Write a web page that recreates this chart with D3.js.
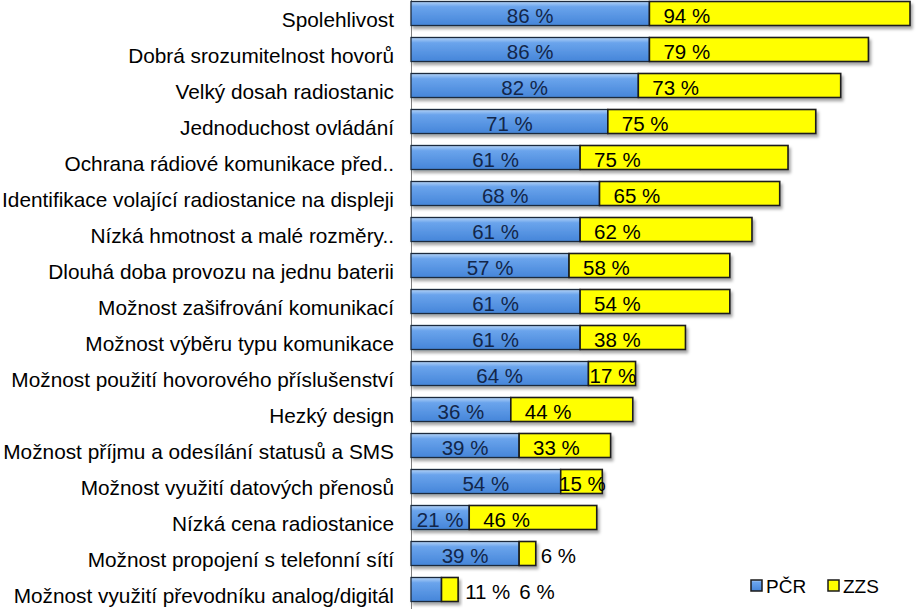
<!DOCTYPE html>
<html><head><meta charset="utf-8">
<script src="https://cdn.jsdelivr.net/npm/d3@7"></script>
<style>body{margin:0;background:#fff}svg{display:block}</style>
</head><body>
<script>
const categories = ["Spolehlivost","Dobrá srozumitelnost hovorů","Velký dosah radiostanic","Jednoduchost ovládání","Ochrana rádiové komunikace před..","Identifikace volající radiostanice na displeji","Nízká hmotnost a malé rozměry..","Dlouhá doba provozu na jednu baterii","Možnost zašifrování komunikací","Možnost výběru typu komunikace","Možnost použití hovorového příslušenství","Hezký design","Možnost příjmu a odesílání statusů a SMS","Možnost využití datových přenosů","Nízká cena radiostanice","Možnost propojení s telefonní sítí","Možnost využití převodníku analog/digitál"];
const pcr = [86,86,82,71,61,68,61,57,61,61,64,36,39,54,21,39,11];
const zzs = [94,79,73,75,75,65,62,58,54,38,17,44,33,15,46,6,6];
const seriesNames = ["PČR","ZZS"];

const W = 917, H = 609;
const svg = d3.select("body").append("svg").attr("width", W).attr("height", H);
const defs = svg.append("defs");
const g1 = defs.append("linearGradient").attr("id","blueGrad").attr("x1",0).attr("y1",0).attr("x2",0).attr("y2",1);
g1.append("stop").attr("offset","0%").attr("stop-color","#b4d3f7");
g1.append("stop").attr("offset","22%").attr("stop-color","#6aa4ec");
g1.append("stop").attr("offset","100%").attr("stop-color","#4585d9");
const f = defs.append("filter").attr("id","shadow").attr("x","-5%").attr("y","-20%").attr("width","115%").attr("height","160%");
f.append("feDropShadow").attr("dx",2).attr("dy",3).attr("stdDeviation",1.5).attr("flood-color","#000").attr("flood-opacity",0.35);

const x = d3.scaleLinear().domain([0,180]).range([411,910]);
const y = d3.scaleBand().domain(categories).range([-4.5,607.5]).paddingInner(0.333).paddingOuter(0.1665);

// category labels
svg.append("g").selectAll("text").data(categories).join("text")
  .attr("x",394).attr("y",d=>y(d)+y.bandwidth()/2+6)
  .attr("text-anchor","end").attr("dominant-baseline","central")
  .attr("font-family","Liberation Sans, Arial, sans-serif").attr("font-size",20.8)
  .attr("fill","#000").text(d=>d);

// axis line
svg.append("line").attr("x1",411.5).attr("x2",411.5).attr("y1",0).attr("y2",H).attr("stroke","#7f7f7f").attr("stroke-width",1);

const rows = categories.map((c,i)=>({c, p:pcr[i], z:zzs[i]}));
const bars = svg.append("g");
rows.forEach(r=>{
  const g = bars.append("g").attr("filter","url(#shadow)");
  g.append("rect").attr("x",x(0)).attr("y",y(r.c)).attr("width",x(r.p)-x(0)).attr("height",y.bandwidth())
   .attr("fill","url(#blueGrad)").attr("stroke","#1c2a3c").attr("stroke-width",1.3);
  g.append("rect").attr("x",x(r.p)).attr("y",y(r.c)).attr("width",x(r.p+r.z)-x(r.p)).attr("height",y.bandwidth())
   .attr("fill","#ffff00").attr("stroke","#1a1a1a").attr("stroke-width",1.6);
});

// labels
const lab = svg.append("g").attr("font-family","Liberation Sans, Arial, sans-serif").attr("font-size",20.5);
function tw(t){
  const tmp = lab.append("text").text(t); const w = tmp.node().getComputedTextLength(); tmp.remove(); return w;
}
rows.forEach(r=>{
  const cy = y(r.c)+y.bandwidth()/2+2;
  let outX = x(r.p+r.z)+7;
  const pt = r.p+" %", zt = r.z+" %";
  const pw = tw(pt), zw = tw(zt);
  const bw = x(r.p)-x(0);
  if (bw >= pw+4) {
    lab.append("text").attr("x",(x(0)+x(r.p))/2).attr("y",cy).attr("text-anchor","middle").attr("dominant-baseline","central").attr("fill","#12264a").text(pt);
  } else {
    lab.append("text").attr("x",outX).attr("y",cy).attr("dominant-baseline","central").attr("fill","#000").text(pt);
    outX += pw+11;
  }
  const zw2 = x(r.p+r.z)-x(r.p);
  if (zw2 >= zw+28) {
    lab.append("text").attr("x",x(r.p)+14).attr("y",cy).attr("dominant-baseline","central").attr("fill","#000").text(zt);
  } else if (zw2 >= zw-8) {
    lab.append("text").attr("x",(x(r.p)+x(r.p+r.z))/2+1).attr("y",cy).attr("text-anchor","middle").attr("dominant-baseline","central").attr("fill","#000").text(zt);
  } else {
    lab.append("text").attr("x",outX-2).attr("y",cy).attr("dominant-baseline","central").attr("fill","#000").text(zt);
  }
});

// legend
const legX = [751, 828], legFill = ["url(#blueGrad)","#ffff00"];
const leg = svg.append("g");
seriesNames.forEach((s,i)=>{
  leg.append("rect").attr("x",legX[i]).attr("y",580).attr("width",11).attr("height",11)
    .attr("fill",legFill[i]).attr("stroke","#1a1a1a").attr("stroke-width",1.5);
  leg.append("text").attr("x",legX[i]+15).attr("y",593).attr("font-family","Liberation Sans, Arial, sans-serif")
    .attr("font-size",19).attr("fill","#000").text(s);
});
</script>
</body></html>
